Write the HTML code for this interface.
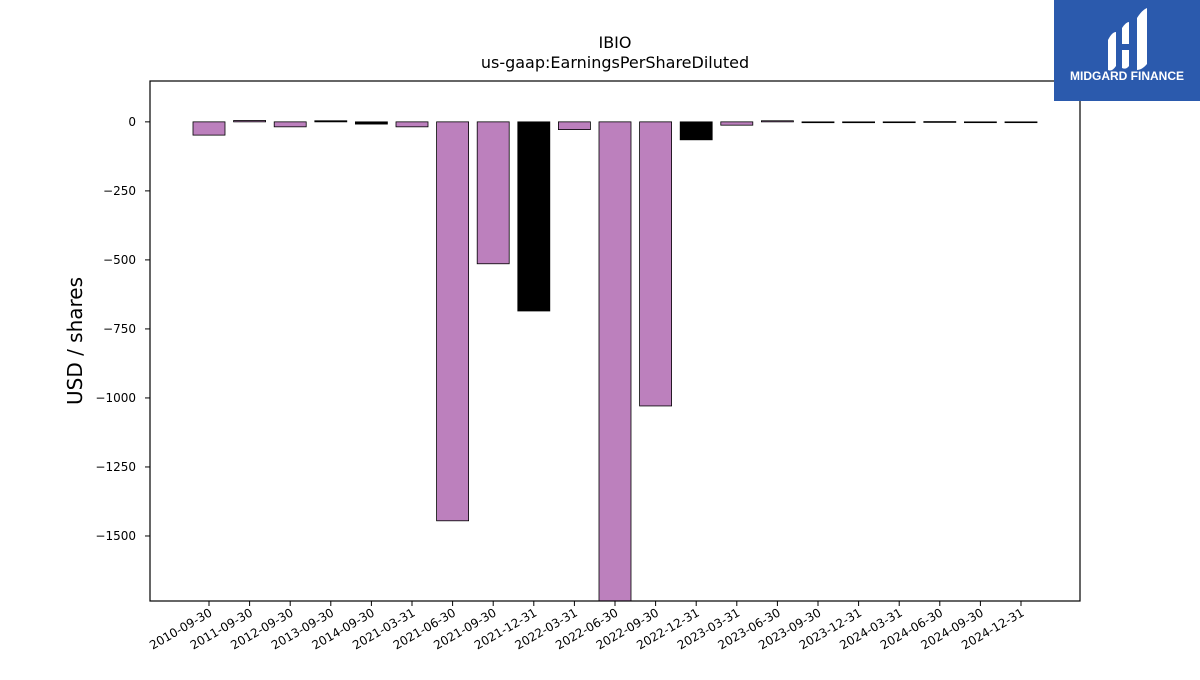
<!DOCTYPE html>
<html><head><meta charset="utf-8"><style>
body{margin:0;background:#fff;width:1200px;height:675px;overflow:hidden;font-family:"Liberation Sans","DejaVu Sans",sans-serif;}
</style></head><body>
<svg id="chart" width="1200" height="675" xmlns="http://www.w3.org/2000/svg">
<text x="615" y="48" text-anchor="middle" font-size="16" font-family="DejaVu Sans, sans-serif">IBIO</text>
<text x="615" y="68" text-anchor="middle" font-size="16" font-family="DejaVu Sans, sans-serif">us-gaap:EarningsPerShareDiluted</text>
<text transform="translate(82,341) rotate(-90)" text-anchor="middle" font-size="20" font-family="DejaVu Sans, sans-serif">USD / shares</text>
<g id="bars"></g>
<g id="axes"></g>
<rect x="150" y="81" width="930" height="520" fill="none" stroke="#000" stroke-width="1.2"/>
<g>
<rect x="1054" y="0" width="146" height="101" fill="#2b5aad"/>
<path d="M1108 40 q4 -8 8 -8 v34 q-4 6 -8 4 z M1122 28 q4 -6 7 -6 v22 h-7 z M1122 50 h7 v16 q-3 4 -7 2 z M1137 18 q5 -8 10 -10 v56 q-5 6 -10 6 z" fill="#fff"/>
<text x="1127" y="80" text-anchor="middle" font-size="12" font-weight="bold" fill="#fff">MIDGARD FINANCE</text>
</g>
</svg>
<script>
const categories=["2010-09-30","2011-09-30","2012-09-30","2013-09-30","2014-09-30","2021-03-31","2021-06-30","2021-09-30","2021-12-31","2022-03-31","2022-06-30","2022-09-30","2022-12-31","2023-03-31","2023-06-30","2023-09-30","2023-12-31","2024-03-31","2024-06-30","2024-09-30","2024-12-31"];
const values=[-48,5,-18,4,-8,-18,-1445,-514,-685,-28,-1800,-1029,-65,-12,4,-3,-3,-1,1,-1,-1];
const colors=["p","p","p","k","k","p","p","p","k","p","p","p","k","p","p","k","k","k","k","k","k"];
const yTicks=[0,-250,-500,-750,-1000,-1250,-1500];
const NS="http://www.w3.org/2000/svg";
const x0=150,x1=1080,y0=81,y1=601,yMax=148,yMin=-1735.5;
function y(v){return y0+(yMax-v)/(yMax-yMin)*(y1-y0);}
const step=40.6, first=209;
function x(i){return first+i*step;}
const bw=32;
const bars=document.getElementById('bars'),axes=document.getElementById('axes');
function mk(t,a){const e=document.createElementNS(NS,t);for(const k in a)e.setAttribute(k,a[k]);return e;}
categories.forEach((c,i)=>{
 const v=Math.max(values[i],yMin), top=Math.min(y(0),y(v)), h=Math.max(Math.abs(y(v)-y(0)),0.8);
 const r=mk('rect',{x:x(i)-bw/2,y:top,width:bw,height:h,fill:colors[i]==="k"?"#000":"#bc80bd",stroke:"#000","stroke-width":0.8});
 
 
 bars.appendChild(r);
 const t=mk('line',{x1:x(i),x2:x(i),y1:y1,y2:y1+5,stroke:"#000"});
 
 
 axes.appendChild(t);
 const l=mk('text',{transform:`translate(${x(i)+4},${y1+14}) rotate(-30)`,"text-anchor":"end","font-size":12,"font-family":"DejaVu Sans, sans-serif"});
 l.textContent=c;
 
 
 axes.appendChild(l);
});
yTicks.forEach(v=>{
 const t=mk('line',{x1:x0-5,x2:x0,y1:y(v),y2:y(v),stroke:"#000"});
 
 
 axes.appendChild(t);
 const l=mk('text',{x:x0-14,y:y(v)+4,"text-anchor":"end","font-size":12,"font-family":"DejaVu Sans, sans-serif"});
 l.textContent=v<0?"\u2212"+(-v):String(v);
 
 
 axes.appendChild(l);
});
</script>
</body></html>
